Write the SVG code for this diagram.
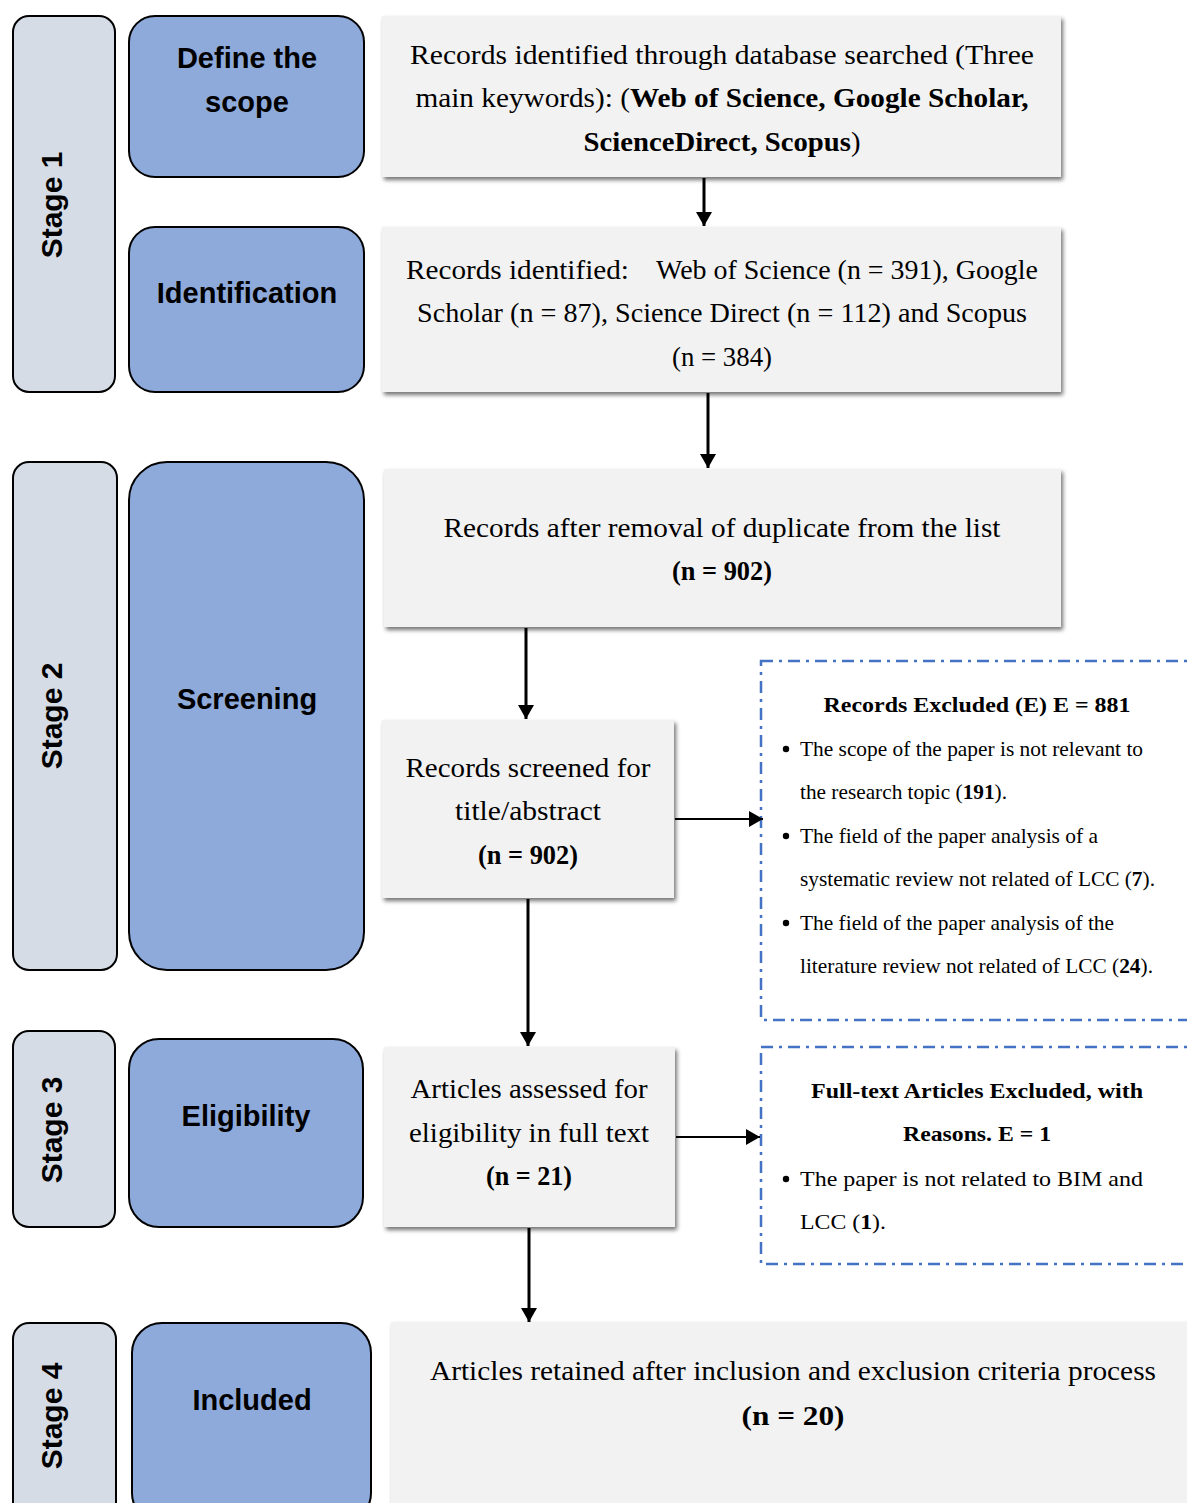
<svg xmlns="http://www.w3.org/2000/svg" width="1187" height="1503" viewBox="0 0 1187 1503">
<defs>
<filter id="sh" x="-5%" y="-5%" width="115%" height="130%">
<feDropShadow dx="2" dy="3" stdDeviation="2" flood-color="#000" flood-opacity="0.55"/>
</filter>
<marker id="ah" viewBox="0 0 14 16" refX="14" refY="8" markerWidth="14" markerHeight="16" markerUnits="userSpaceOnUse" orient="auto">
<path d="M0,0 L14,8 L0,16 Z" fill="#000"/>
</marker>
</defs>
<style>
.stage{fill:#d6dce5;stroke:#000;stroke-width:2}
.phase{fill:#8eaadb;stroke:#000;stroke-width:2}
.gray{fill:#f2f2f2;filter:url(#sh)}
.dash{fill:none;stroke:#4472c4;stroke-width:2.5;stroke-dasharray:12 6 3 6}
.lbl{font-family:"Liberation Sans",Arial,sans-serif;font-weight:bold;font-size:29px;fill:#000;text-anchor:middle}
.stg{font-size:30px}
.pal{font-family:"Liberation Serif","DejaVu Serif",serif;font-size:27px;fill:#000;text-anchor:middle}
.st{text-anchor:start}
.tnr{font-family:"Liberation Serif","Times New Roman",serif;font-size:21px;fill:#000}
.mid{text-anchor:middle}
.b{font-weight:bold}
.con{stroke:#000;stroke-width:3;fill:none;marker-end:url(#ah)}
.con2{stroke:#000;stroke-width:2;fill:none;marker-end:url(#ah)}
</style>

<g id="stage1"><rect class="stage" x="13" y="16" width="102" height="376" rx="16"/><text class="lbl stg" transform="translate(62,205) rotate(-90)">Stage 1</text></g>
<g id="stage2"><rect class="stage" x="13" y="462" width="104" height="508" rx="16"/><text class="lbl stg" transform="translate(62,716) rotate(-90)">Stage 2</text></g>
<g id="stage3"><rect class="stage" x="13" y="1031" width="102" height="196" rx="16"/><text class="lbl stg" transform="translate(62,1130) rotate(-90)">Stage 3</text></g>
<g id="stage4"><rect class="stage" x="13" y="1323" width="103" height="200" rx="16"/><text class="lbl stg" transform="translate(62,1416) rotate(-90)">Stage 4</text></g>

<g id="define"><rect class="phase" x="129" y="16" width="235" height="161" rx="26"/><text class="lbl" x="247" y="68">Define the</text><text class="lbl" x="247" y="112">scope</text></g>
<g id="identification"><rect class="phase" x="129" y="227" width="235" height="165" rx="26"/><text class="lbl" x="247" y="303">Identification</text></g>
<g id="screening"><rect class="phase" x="129" y="462" width="235" height="508" rx="38"/><text class="lbl" x="247" y="709">Screening</text></g>
<g id="eligibility"><rect class="phase" x="129" y="1039" width="234" height="188" rx="30"/><text class="lbl" x="246" y="1126">Eligibility</text></g>
<g id="included"><rect class="phase" x="132" y="1323" width="239" height="200" rx="30"/><text class="lbl" x="252" y="1410">Included</text></g>

<g id="box1"><rect class="gray" x="382" y="16" width="679" height="161"/>
<text class="pal" x="722" y="64" textLength="624" lengthAdjust="spacingAndGlyphs">Records identified through database searched (Three</text>
<text class="pal" x="722" y="107" textLength="613" lengthAdjust="spacingAndGlyphs">main keywords): (<tspan class="b">Web of Science, Google Scholar,</tspan></text>
<text class="pal" x="722" y="151" textLength="277" lengthAdjust="spacingAndGlyphs"><tspan class="b">ScienceDirect, Scopus</tspan>)</text></g>

<g id="box2"><rect class="gray" x="382" y="227" width="679" height="165"/>
<text class="pal st" x="406" y="279" textLength="223" lengthAdjust="spacingAndGlyphs">Records identified:</text>
<text class="pal st" x="656" y="279" textLength="382" lengthAdjust="spacingAndGlyphs">Web of Science (n = 391), Google</text>
<text class="pal" x="722" y="322" textLength="610" lengthAdjust="spacingAndGlyphs">Scholar (n = 87), Science Direct (n = 112) and Scopus</text>
<text class="pal" x="722" y="366" textLength="100" lengthAdjust="spacingAndGlyphs">(n = 384)</text></g>

<g id="box3"><rect class="gray" x="384" y="469" width="677" height="158"/>
<text class="pal" x="722" y="537" textLength="557" lengthAdjust="spacingAndGlyphs">Records after removal of duplicate from the list</text>
<text class="pal b" x="722" y="580" textLength="100" lengthAdjust="spacingAndGlyphs">(n = 902)</text></g>

<g id="box4"><rect class="gray" x="382" y="720" width="292" height="178"/>
<text class="pal" x="528" y="777" textLength="245" lengthAdjust="spacingAndGlyphs">Records screened for</text>
<text class="pal" x="528" y="820" textLength="146" lengthAdjust="spacingAndGlyphs">title/abstract</text>
<text class="pal b" x="528" y="864" textLength="100" lengthAdjust="spacingAndGlyphs">(n = 902)</text></g>

<g id="box5"><rect class="gray" x="384" y="1047" width="291" height="180"/>
<text class="pal" x="529" y="1098" textLength="237" lengthAdjust="spacingAndGlyphs">Articles assessed for</text>
<text class="pal" x="529" y="1142" textLength="240" lengthAdjust="spacingAndGlyphs">eligibility in full text</text>
<text class="pal b" x="529" y="1185" textLength="86" lengthAdjust="spacingAndGlyphs">(n = 21)</text></g>

<g id="box6"><rect class="gray" x="391" y="1322" width="820" height="210"/>
<text class="pal" x="793" y="1380" textLength="726" lengthAdjust="spacingAndGlyphs">Articles retained after inclusion and exclusion criteria process</text>
<text class="pal b" x="793" y="1425" font-size="31" textLength="103" lengthAdjust="spacingAndGlyphs">(n = 20)</text></g>

<g id="excluded1"><rect class="dash" x="761" y="661" width="440" height="359"/>
<text class="tnr b mid" x="977" y="712" textLength="307" lengthAdjust="spacingAndGlyphs">Records Excluded (E) E = 881</text>
<circle cx="786" cy="749" r="3.2"/>
<text class="tnr" x="800" y="756" textLength="343" lengthAdjust="spacingAndGlyphs">The scope of the paper is not relevant to</text>
<text class="tnr" x="800" y="799" textLength="207" lengthAdjust="spacingAndGlyphs">the research topic (<tspan class="b">191</tspan>).</text>
<circle cx="786" cy="836" r="3.2"/>
<text class="tnr" x="800" y="843" textLength="298" lengthAdjust="spacingAndGlyphs">The field of the paper analysis of a</text>
<text class="tnr" x="800" y="886" textLength="355" lengthAdjust="spacingAndGlyphs">systematic review not related of LCC (<tspan class="b">7</tspan>).</text>
<circle cx="786" cy="923" r="3.2"/>
<text class="tnr" x="800" y="930" textLength="314" lengthAdjust="spacingAndGlyphs">The field of the paper analysis of the</text>
<text class="tnr" x="800" y="973" textLength="353" lengthAdjust="spacingAndGlyphs">literature review not related of LCC (<tspan class="b">24</tspan>).</text></g>

<g id="excluded2"><rect class="dash" x="761" y="1047" width="440" height="217"/>
<text class="tnr b mid" x="977" y="1098" textLength="332" lengthAdjust="spacingAndGlyphs">Full-text Articles Excluded, with</text>
<text class="tnr b mid" x="977" y="1141" textLength="148" lengthAdjust="spacingAndGlyphs">Reasons. E = 1</text>
<circle cx="786" cy="1179" r="3.2"/>
<text class="tnr" x="800" y="1186" textLength="343" lengthAdjust="spacingAndGlyphs">The paper is not related to BIM and</text>
<text class="tnr" x="800" y="1229" textLength="86" lengthAdjust="spacingAndGlyphs">LCC (<tspan class="b">1</tspan>).</text></g>

<g id="connectors">
<line class="con" x1="704" y1="178" x2="704" y2="226"/>
<line class="con" x1="708" y1="393" x2="708" y2="468"/>
<line class="con" x1="526" y1="628" x2="526" y2="719"/>
<line class="con" x1="528" y1="899" x2="528" y2="1046"/>
<line class="con" x1="529" y1="1228" x2="529" y2="1322"/>
<line class="con2" x1="675" y1="819" x2="763" y2="819"/>
<line class="con2" x1="676" y1="1137" x2="760" y2="1137"/>
</g>
</svg>
